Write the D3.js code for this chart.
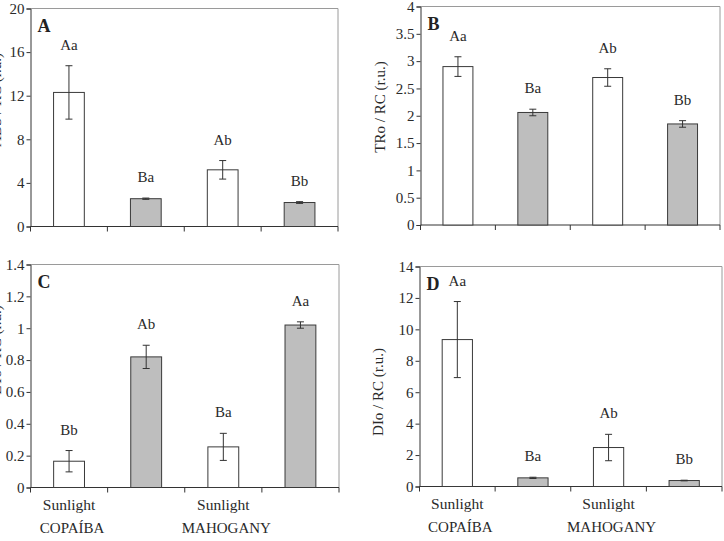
<!DOCTYPE html>
<html>
<head>
<meta charset="utf-8">
<script src="https://cdn.jsdelivr.net/npm/d3@7"></script>
<style>
  body { margin: 0; background: #fff; }
  svg { display: block; font-family: "Liberation Serif", "Times New Roman", serif; }
</style>
</head>
<body>
<svg id="chart" width="724" height="541"></svg>
<script>
// bar order: copaiba sun, copaiba shade, mahogany sun, mahogany shade
const xLabels = ["Sunlight", "", "Sunlight", ""];
const species = ["COPAÍBA", "MAHOGANY"];
const shaded = [false, true, false, true];

const absValues = [12.3, 2.55, 5.2, 2.2];
const absErrors = [2.45, 0.06, 0.85, 0.08];
const absLetters = ["Aa", "Ba", "Ab", "Bb"];
const absTicks = [0, 4, 8, 12, 16, 20];

const troValues = [2.9, 2.06, 2.7, 1.85];
const troErrors = [0.18, 0.06, 0.16, 0.06];
const troLetters = ["Aa", "Ba", "Ab", "Bb"];
const troTicks = [0, 0.5, 1, 1.5, 2, 2.5, 3, 3.5, 4];

const etoValues = [0.165, 0.82, 0.255, 1.02];
const etoErrors = [0.067, 0.073, 0.085, 0.02];
const etoLetters = ["Bb", "Ab", "Ba", "Aa"];
const etoTicks = [0, 0.2, 0.4, 0.6, 0.8, 1, 1.2, 1.4];

const dioValues = [9.35, 0.55, 2.48, 0.38];
const dioErrors = [2.42, 0.04, 0.84, 0.02];
const dioLetters = ["Aa", "Ba", "Ab", "Bb"];
const dioTicks = [0, 2, 4, 6, 8, 10, 12, 14];

const svg = d3.select("#chart");

const drawPanel = (p) => {
  const g = svg.append("g");

  const x = d3.scaleBand()
    .domain(d3.range(p.values.length))
    .range([p.left, p.right])
    .paddingInner(0.6)
    .paddingOuter(0.3);

  const y = d3.scaleLinear()
    .domain([0, p.ticks[p.ticks.length - 1]])
    .range([p.bottom, p.top]);

  // frame: grey top and right edges
  g.append("path")
    .attr("d", `M${p.left},${p.top}H${p.right}V${p.bottom}`)
    .attr("fill", "none")
    .attr("stroke", "#9a9a9a")
    .attr("stroke-width", 1);

  // y axis
  const yAxis = g.append("g")
    .attr("transform", `translate(${p.left},0)`)
    .call(d3.axisLeft(y).tickValues(p.ticks).tickSize(4).tickPadding(2).tickFormat(d3.format("")));
  yAxis.select(".domain").attr("stroke", "#333");
  yAxis.selectAll(".tick line").attr("stroke", "#333");
  yAxis.selectAll("text")
    .attr("font-size", 15)
    .attr("font-family", "Liberation Serif")
    .attr("fill", "#2a2a2a");

  // x axis with ticks at band edges
  const edges = d3.range(p.values.length + 1).map((i) => p.left + i * x.step());
  g.append("line")
    .attr("x1", p.left).attr("x2", p.right)
    .attr("y1", p.bottom).attr("y2", p.bottom)
    .attr("stroke", "#333");
  g.selectAll(".xtick")
    .data(edges)
    .enter()
    .append("line")
    .attr("x1", (d) => d).attr("x2", (d) => d)
    .attr("y1", p.bottom).attr("y2", p.bottom + 5)
    .attr("stroke", "#333");

  // bars
  g.selectAll(".bar")
    .data(p.values)
    .enter()
    .append("rect")
    .attr("x", (d, i) => x(i))
    .attr("y", (d) => y(d))
    .attr("width", x.bandwidth())
    .attr("height", (d) => p.bottom - y(d))
    .attr("fill", (d, i) => (shaded[i] ? "#bebebe" : "#fff"))
    .attr("stroke", "#3a3a3a")
    .attr("stroke-width", 1);

  // error bars
  const err = g.selectAll(".err")
    .data(p.values)
    .enter()
    .append("g")
    .attr("stroke", "#333")
    .attr("stroke-width", 1);
  err.append("line")
    .attr("x1", (d, i) => x(i) + x.bandwidth() / 2)
    .attr("x2", (d, i) => x(i) + x.bandwidth() / 2)
    .attr("y1", (d, i) => y(d + p.errors[i]))
    .attr("y2", (d, i) => y(d - p.errors[i]));
  [1, -1].forEach((s) => {
    err.append("line")
      .attr("x1", (d, i) => x(i) + x.bandwidth() / 2 - 3.5)
      .attr("x2", (d, i) => x(i) + x.bandwidth() / 2 + 3.5)
      .attr("y1", (d, i) => y(d + s * p.errors[i]))
      .attr("y2", (d, i) => y(d + s * p.errors[i]));
  });

  // significance letters
  g.selectAll(".letter")
    .data(p.values)
    .enter()
    .append("text")
    .attr("x", (d, i) => x(i) + x.bandwidth() / 2)
    .attr("y", (d, i) => y(d + p.errors[i]) - 16)
    .attr("text-anchor", "middle")
    .attr("font-size", 15)
    .attr("fill", "#2a2a2a")
    .text((d, i) => p.letters[i]);

  // panel letter
  g.append("text")
    .attr("x", p.left + 7)
    .attr("y", p.top + 23)
    .attr("font-size", 18)
    .attr("font-weight", "bold")
    .attr("fill", "#222")
    .text(p.name);

  // y title (left-hand ones run off the page, as in the original)
  g.append("text")
    .attr("transform", `translate(${p.titleX},${p.titleY}) rotate(-90)`)
    .attr("text-anchor", "middle")
    .attr("font-size", 15)
    .attr("fill", "#2a2a2a")
    .text(p.title);

  if (p.showX) {
    g.selectAll(".xlab")
      .data(xLabels)
      .enter()
      .append("text")
      .attr("x", (d, i) => x(i) + x.bandwidth() / 2)
      .attr("y", p.bottom + 22)
      .attr("text-anchor", "middle")
      .attr("font-size", 15.5)
      .attr("fill", "#2a2a2a")
      .text((d) => d);
    g.selectAll(".sp")
      .data(species)
      .enter()
      .append("text")
      .attr("x", (d, i) => x(i * 2) + x.bandwidth() / 2 + 3)
      .attr("y", p.bottom + 45)
      .attr("text-anchor", "middle")
      .attr("font-size", 15)
      .attr("fill", "#2a2a2a")
      .text((d) => d);
  }
};

drawPanel({ name: "A", values: absValues, errors: absErrors, letters: absLetters, ticks: absTicks,
  title: "ABS / RC (r.u.)", left: 30.5, right: 338, top: 8.5, bottom: 226.5, titleX: 1, titleY: 100, showX: false });
drawPanel({ name: "B", values: troValues, errors: troErrors, letters: troLetters, ticks: troTicks,
  title: "TRo / RC (r.u.)", left: 420.5, right: 720, top: 6.5, bottom: 225, titleX: 385, titleY: 107, showX: false });
drawPanel({ name: "C", values: etoValues, errors: etoErrors, letters: etoLetters, ticks: etoTicks,
  title: "ETo / RC (r.u.)", left: 30.5, right: 339, top: 264.5, bottom: 487.5, titleX: 1, titleY: 350, showX: true });
drawPanel({ name: "D", values: dioValues, errors: dioErrors, letters: dioLetters, ticks: dioTicks,
  title: "DIo / RC (r.u.)", left: 419.5, right: 722, top: 266.5, bottom: 486.5, titleX: 383, titleY: 392, showX: true });
</script>
</body>
</html>
